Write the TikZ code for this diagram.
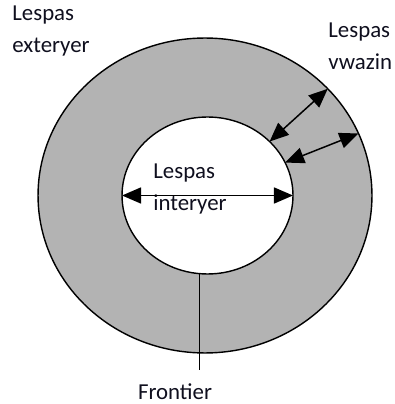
\documentclass[tikz,border=0pt]{standalone}
\usepackage{fontspec}
\setmainfont{Carlito}
\usetikzlibrary{calc,shapes.geometric,arrows.meta}
\definecolor{ring}{RGB}{179,179,179}
\definecolor{txt}{RGB}{15,15,30}

\begin{document}
\begin{tikzpicture}[x=0.02cm,y=-0.02cm,color=black,
    lbl/.style={align=left,inner sep=0pt,text=txt,font=\fontsize{13}{18.2}\selectfont},
    dimarrow/.style={line width=0.85pt,{Triangle[length=0.38cm,width=0.32cm]}-{Triangle[length=0.38cm,width=0.32cm]}}]
\def\lw{0.8pt}

\useasboundingbox (0,0) rectangle (394,404);

\node[ellipse,draw,line width=\lw,fill=ring,inner sep=0pt,outer sep=0pt,
      minimum width=6.68cm,minimum height=6.3cm] (outer) at (205,195.5) {};
\node[ellipse,draw,line width=\lw,fill=white,inner sep=0pt,outer sep=0pt,
      minimum width=3.42cm,minimum height=3.14cm] (inner) at (207.5,195.5) {};

\coordinate (fend) at (197,370);

% labels
\node[lbl,anchor=west] (ext) at (12,31) {Lespas\\exteryer};
\node[lbl,anchor=west] (vwa) at (328,46) {Lespas\\vwazin};
\node[lbl,anchor=west] (int) at (153,189) {Lespas\\interyer};
\node[lbl] (fro) at (175,392) {Frontier};

% arrows
\draw[dimarrow] (inner.west) -- (inner.east);
\draw[dimarrow] (outer.41.5) -- (inner.41);
\draw[dimarrow] (outer.22.5) -- (inner.23);

\draw[line width=\lw] (inner.264) -- (inner.264 |- fend);

\end{tikzpicture}
\end{document}
